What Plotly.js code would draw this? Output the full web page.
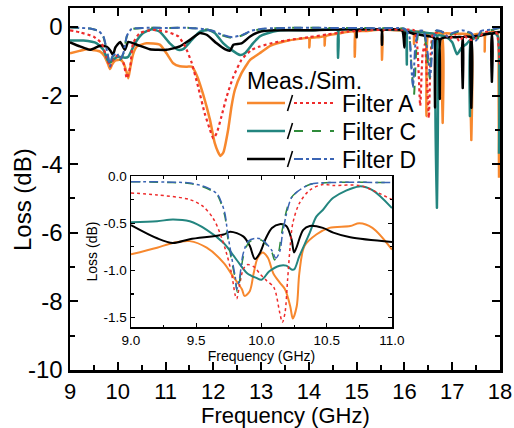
<!DOCTYPE html>
<html>
<head>
<meta charset="utf-8">
<script src="https://cdn.plot.ly/plotly-3.0.1.min.js"></script>
<style>html,body{margin:0;padding:0;background:#fff}#chart{width:514px;height:428px}</style>
</head>
<body>
<div id="chart"></div>
<script>
// ---------- main plot data (9-18 GHz) ----------
const measA_f = [9.0,9.2,9.35,9.5,9.63,9.72,9.8,9.84,9.88,9.95,10.05,10.12,10.18,10.22,10.26,10.32,10.4,10.6,10.88,11.02,11.16,11.3,11.45,11.55,11.65,11.79,11.93,12.03,12.1,12.15,12.21,12.31,12.38,12.45,12.59,12.77,12.97,13.2,13.5,13.8,14.0,14.01,14.03,14.2,14.32,14.33,14.35,14.6,14.95,14.96,14.98,15.2,15.52,15.53,15.55,15.8,16.1,16.19,16.2,16.22,16.4,16.44,16.46,16.5,16.6,16.78,16.8,16.82,17.0,17.2,17.38,17.4,17.42,17.6,17.67,17.68,17.7,17.85,17.95,17.97,17.98];
const measA_L = [-0.77,-0.7,-0.65,-0.68,-0.72,-0.85,-1.1,-1.23,-1.1,-0.98,-0.96,-1.05,-1.3,-1.5,-1.2,-0.8,-0.57,-0.48,-0.52,-0.77,-1.06,-1.15,-1.16,-1.16,-1.4,-1.98,-2.71,-3.39,-3.65,-3.76,-3.66,-3.0,-2.32,-1.84,-1.35,-0.96,-0.77,-0.55,-0.42,-0.35,-0.33,-0.6,-0.33,-0.3,-0.28,-0.55,-0.27,-0.2,-0.14,-0.87,-0.14,-0.12,-0.1,-0.96,-0.1,-0.1,-0.12,-0.15,-0.5,-0.15,-0.15,-0.2,-2.6,-0.2,-0.2,-0.2,-2.8,-0.2,-0.2,-0.2,-0.25,-3.3,-0.25,-0.2,-0.2,-0.72,-0.2,-0.15,-0.2,-1.5,-4.4];

const simA_f = [9.0,9.21,9.49,9.66,9.77,9.84,9.9,10.01,10.12,10.19,10.26,10.32,10.46,10.74,11.02,11.27,11.41,11.55,11.68,11.82,11.93,12.0,12.07,12.17,12.28,12.42,12.59,12.8,12.97,13.3,13.6,14.0,14.4,14.8,15.2,15.6,16.0,16.2,16.27,16.33,16.38,16.43,16.47,16.51,16.55,16.6,16.8,16.95,17.05,17.15,17.25,17.33,17.42,17.54,17.7,17.9,17.95,18.0];
const simA_L = [-0.1,-0.16,-0.28,-0.48,-0.9,-1.17,-0.96,-0.82,-1.06,-1.5,-1.16,-0.48,-0.18,-0.09,-0.14,-0.28,-0.57,-1.06,-1.74,-2.52,-3.0,-3.25,-3.1,-2.61,-2.03,-1.45,-0.96,-0.67,-0.57,-0.45,-0.38,-0.3,-0.22,-0.14,-0.1,-0.08,-0.08,-0.1,-0.6,-2.3,-0.8,-0.5,-1.5,-2.65,-0.8,-0.2,-0.15,-0.35,-0.2,-0.42,-0.25,-0.35,-0.38,-0.3,-0.15,-0.1,-0.3,-1.1];

const measC_f = [9.0,9.28,9.56,9.7,9.82,9.9,10.0,10.15,10.22,10.36,10.53,10.71,10.88,11.09,11.27,11.37,11.55,11.72,11.89,12.03,12.21,12.38,12.56,12.66,12.83,12.97,13.1,13.4,14.0,14.6,14.61,14.63,15.0,15.5,16.0,16.04,16.05,16.07,16.3,16.6,16.67,16.68,16.7,16.88,17.0,17.1,17.2,17.3,17.36,17.37,17.39,17.5,17.7,17.9,17.96,17.98];
const measC_L = [-0.4,-0.4,-0.48,-0.67,-1.06,-0.96,-0.87,-0.9,-0.87,-0.48,-0.18,-0.07,-0.14,-0.48,-0.67,-0.65,-0.38,-0.14,-0.09,-0.18,-0.48,-0.67,-0.82,-0.77,-0.48,-0.28,-0.2,-0.1,-0.1,-0.1,-0.9,-0.1,-0.08,-0.08,-0.1,-0.12,-1.1,-0.12,-0.15,-0.2,-0.25,-5.27,-0.25,-0.3,-0.45,-0.8,-0.6,-0.5,-0.4,-2.6,-0.4,-0.3,-0.2,-0.2,-0.3,-3.7];

const simC_f = [9.0,9.42,9.6,9.7,9.8,9.84,9.88,9.98,10.05,10.12,10.19,10.29,10.53,11.0,11.5,11.8,12.0,12.2,12.4,12.6,12.8,13.1,13.5,14.5,15.5,16.0,16.1,16.15,16.2,16.25,16.3,16.4,16.48,16.53,16.58,16.65,16.8,16.9,17.0,17.2,17.4,17.5,17.6,17.8,18.0];
const simC_L = [-0.02,-0.05,-0.12,-0.3,-0.9,-1.17,-0.9,-0.77,-0.96,-0.77,-0.28,-0.07,-0.03,-0.03,-0.03,-0.06,-0.12,-0.25,-0.32,-0.25,-0.12,-0.05,-0.03,-0.03,-0.04,-0.06,-0.3,-1.2,-1.98,-0.6,-0.15,-0.15,-0.9,-1.5,-0.5,-0.12,-0.15,-0.3,-0.2,-0.12,-0.2,-0.45,-0.15,-0.1,-0.03];

const measD_f = [9.0,9.21,9.42,9.63,9.77,9.85,9.9,9.95,10.05,10.15,10.22,10.4,10.67,11.02,11.3,11.51,11.72,11.86,12.07,12.24,12.35,12.42,12.59,12.77,12.97,13.3,14.0,14.99,15.0,15.01,15.52,15.53,15.54,15.95,16.0,16.02,16.2,16.4,16.6,16.63,16.64,16.66,16.72,16.74,16.76,16.9,17.1,17.21,17.22,17.23,17.39,17.4,17.41,17.6,17.82,17.83,17.84,18.0];
const measD_L = [-0.45,-0.57,-0.67,-0.55,-0.58,-0.7,-0.82,-0.6,-0.44,-0.67,-0.44,-0.52,-0.65,-0.67,-0.57,-0.38,-0.18,-0.23,-0.48,-0.65,-0.69,-0.52,-0.48,-0.28,-0.14,-0.1,-0.1,-0.1,-0.3,-0.1,-0.1,-0.52,-0.1,-0.1,-0.6,-0.15,-0.2,-0.25,-0.3,-0.35,-2.35,-0.35,-0.35,-2.1,-0.35,-0.3,-0.3,-0.3,-1.78,-0.3,-0.3,-2.36,-0.3,-0.25,-0.2,-1.6,-0.2,-0.15];

const simD_f = [9.0,9.42,9.6,9.7,9.8,9.84,9.88,9.98,10.05,10.12,10.19,10.29,10.53,11.0,11.5,11.8,12.0,12.2,12.4,12.6,12.8,13.1,13.5,14.5,15.5,16.0,16.1,16.14,16.18,16.23,16.3,16.4,16.49,16.54,16.6,16.67,16.8,16.9,17.0,17.2,17.4,17.5,17.6,17.8,18.0];
const simD_L = [-0.01,-0.05,-0.12,-0.28,-0.88,-1.15,-0.88,-0.76,-0.94,-0.75,-0.26,-0.06,-0.03,-0.03,-0.03,-0.06,-0.12,-0.24,-0.3,-0.24,-0.11,-0.05,-0.03,-0.03,-0.04,-0.05,-0.25,-1.1,-1.75,-0.5,-0.12,-0.12,-0.8,-1.45,-0.4,-0.1,-0.15,-0.28,-0.18,-0.1,-0.18,-0.4,-0.12,-0.08,-0.02];

// ---------- inset data (9-11 GHz) ----------
const inMeasA_f = [9.0,9.2,9.32,9.45,9.58,9.71,9.78,9.85,9.87,9.91,9.94,9.97,10.01,10.05,10.09,10.14,10.18,10.22,10.24,10.27,10.29,10.33,10.42,10.52,10.68,10.75,10.85,11.0];
const inMeasA_L = [-0.83,-0.76,-0.71,-0.69,-0.76,-0.92,-1.06,-1.2,-1.27,-1.22,-1.03,-0.87,-0.81,-0.87,-1.03,-1.13,-1.2,-1.38,-1.51,-1.38,-1.03,-0.74,-0.62,-0.55,-0.53,-0.5,-0.55,-0.78];

const inSimA_f = [9.0,9.2,9.45,9.55,9.63,9.68,9.73,9.77,9.8,9.81,9.83,9.86,9.89,9.94,9.99,10.04,10.09,10.11,10.14,10.16,10.18,10.2,10.22,10.24,10.29,10.37,10.47,10.55,10.75,10.85,11.0];
const inSimA_L = [-0.18,-0.2,-0.25,-0.32,-0.45,-0.6,-0.81,-1.03,-1.27,-1.3,-1.17,-0.99,-0.94,-0.96,-1.04,-1.11,-1.17,-1.24,-1.45,-1.55,-1.45,-1.1,-0.74,-0.5,-0.29,-0.15,-0.09,-0.1,-0.1,-0.15,-0.25];

const inMeasC_f = [9.0,9.2,9.32,9.45,9.58,9.71,9.81,9.89,9.96,10.0,10.06,10.14,10.19,10.23,10.25,10.29,10.37,10.42,10.47,10.55,10.75,10.85,11.0];
const inMeasC_L = [-0.49,-0.48,-0.46,-0.48,-0.57,-0.71,-0.89,-1.03,-1.08,-1.1,-1.01,-0.95,-0.95,-0.99,-0.99,-0.85,-0.6,-0.43,-0.36,-0.23,-0.11,-0.15,-0.34];

const inSimC_f = [9.0,9.32,9.45,9.58,9.66,9.69,9.72,9.74,9.77,9.8,9.815,9.83,9.86,9.9,9.95,10.0,10.04,10.08,10.1,10.13,10.15,10.18,10.22,10.27,10.37,10.52,11.0];
const inSimC_L = [-0.06,-0.07,-0.08,-0.13,-0.2,-0.29,-0.43,-0.64,-0.89,-1.1,-1.23,-1.13,-0.86,-0.71,-0.67,-0.68,-0.73,-0.81,-0.89,-0.81,-0.64,-0.43,-0.25,-0.17,-0.09,-0.07,-0.07];

const inMeasD_f = [9.0,9.2,9.32,9.45,9.71,9.76,9.86,9.91,9.95,9.99,10.03,10.08,10.14,10.19,10.23,10.25,10.27,10.32,10.37,10.47,10.55,10.68,11.0];
const inMeasD_L = [-0.52,-0.66,-0.71,-0.67,-0.62,-0.59,-0.64,-0.74,-0.88,-0.81,-0.67,-0.55,-0.51,-0.53,-0.67,-0.81,-0.75,-0.57,-0.53,-0.55,-0.6,-0.65,-0.7];

const inSimD_f = [9.0,9.32,9.45,9.58,9.66,9.69,9.72,9.74,9.77,9.8,9.81,9.83,9.86,9.9,9.95,10.0,10.04,10.08,10.11,10.14,10.16,10.19,10.23,10.28,10.37,10.52,11.0];
const inSimD_L = [-0.06,-0.065,-0.075,-0.12,-0.19,-0.27,-0.4,-0.6,-0.85,-1.08,-1.2,-1.1,-0.82,-0.69,-0.66,-0.67,-0.72,-0.79,-0.87,-0.8,-0.62,-0.41,-0.23,-0.16,-0.09,-0.07,-0.07];

// ---------- tick labels / texts ----------
const mainYTickVals = [0,-2,-4,-6,-8,-10];
const mainYTickText = ['0','-2','-4','-6','-8','-10'];
const mainXTickVals = [9,10,11,12,13,14,15,16,17,18];
const mainXTickText = ['9','10','11','12','13','14','15','16','17','18'];
const inXTickVals = [9,9.5,10,10.5,11];
const inXTickText = ['9.0','9.5','10.0','10.5','11.0'];
const inYTickVals = [0,-0.5,-1.0,-1.5];
const inYTickText = ['0.0','-0.5','-1.0','-1.5'];
const legendNames = ['Filter A','Filter C','Filter D'];

// ---------- styles ----------
const C = {orange:'#F7882E', red:'#EE2B2B', teal:'#23857F', green:'#2F8B3A', black:'#000000', blue:'#3A64B4'};
const FONT = 'Arial, "Liberation Sans", Helvetica, sans-serif';

function tr(x, y, color, dash, w, xa, ya, smooth) {
  return {x: x, y: y, type:'scatter', mode:'lines', xaxis: xa, yaxis: ya,
    line:{color: color, width: w, dash: dash, shape:'spline', smoothing: smooth}, hoverinfo:'skip', showlegend:false};
}

const data = [
  tr(measA_f, measA_L, C.orange, 'solid', 2.5, 'x', 'y', 0.5),
  tr(measC_f, measC_L, C.teal, 'solid', 2.5, 'x', 'y', 0.5),
  tr(measD_f, measD_L, C.black, 'solid', 2.5, 'x', 'y', 0.5),
  tr(simA_f, simA_L, C.red, 'dot', 2.2, 'x', 'y', 0.5),
  tr(simC_f, simC_L, C.green, 'dash', 2, 'x', 'y', 0.5),
  tr(simD_f, simD_L, C.blue, 'dashdot', 2, 'x', 'y', 0.5),
  tr(inMeasA_f, inMeasA_L, C.orange, 'solid', 2, 'x2', 'y2', 0.9),
  tr(inMeasC_f, inMeasC_L, C.teal, 'solid', 2, 'x2', 'y2', 0.9),
  tr(inMeasD_f, inMeasD_L, C.black, 'solid', 2, 'x2', 'y2', 0.9),
  tr(inSimA_f, inSimA_L, C.red, 'dot', 1.5, 'x2', 'y2', 0.9),
  tr(inSimC_f, inSimC_L, C.green, 'dash', 1.5, 'x2', 'y2', 0.9),
  tr(inSimD_f, inSimD_L, C.blue, 'dashdot', 1.5, 'x2', 'y2', 0.9)
];

// pixel helpers for legend/inset placement (plot area 70..500 x 8..370)
const PL=70, PR=500, PT=8, PB=370;
const px = v => (v-PL)/(PR-PL);
const py = v => (PB-v)/(PB-PT);

const shapes = [];
const annotations = [];
const rows = [
  {y:103, m:C.orange, s:C.red, dash:'dot'},
  {y:131, m:C.teal, s:C.green, dash:'dash'},
  {y:159, m:C.black, s:C.blue, dash:'dashdot'}
];
rows.forEach((r,i)=>{
  shapes.push({type:'line', xref:'paper', yref:'paper', x0:px(247), x1:px(285), y0:py(r.y), y1:py(r.y), line:{color:r.m, width:2.5}});
  shapes.push({type:'line', xref:'paper', yref:'paper', x0:px(294), x1:px(334), y0:py(r.y), y1:py(r.y), line:{color:r.s, width:2.2, dash:r.dash}});
  // the "/" separator between the measured and simulated samples
  shapes.push({type:'line', xref:'paper', yref:'paper', x0:px(287.5), x1:px(292.5), y0:py(r.y+8), y1:py(r.y-8), line:{color:'#000', width:1.6}});
  annotations.push({xref:'paper', yref:'paper', x:px(340), y:py(r.y+1), text:legendNames[i], showarrow:false, xanchor:'left', yanchor:'middle', font:{family:FONT, size:23, color:'#000'}});
});
annotations.push({xref:'paper', yref:'paper', x:px(245), y:py(81), text:'Meas./Sim.', showarrow:false, xanchor:'left', yanchor:'middle', font:{family:FONT, size:23, color:'#000'}});
// main axis titles
annotations.push({xref:'paper', yref:'paper', x:px(285), y:py(415), text:'Frequency (GHz)', showarrow:false, xanchor:'center', yanchor:'middle', font:{family:FONT, size:22, color:'#000'}});
annotations.push({xref:'paper', yref:'paper', x:px(22), y:py(200), text:'Loss (dB)', textangle:-90, showarrow:false, xanchor:'center', yanchor:'middle', font:{family:FONT, size:24, color:'#000'}});

const layout = {
  width:514, height:428,
  margin:{l:PL, r:514-PR, t:PT, b:428-PB},
  paper_bgcolor:'#fff', plot_bgcolor:'rgba(0,0,0,0)',
  showlegend:false,
  xaxis:{range:[9,18], tickmode:'array', tickvals:mainXTickVals, ticktext:mainXTickText,
    ticks:'inside', ticklen:8, tickwidth:2, tickcolor:'#000', mirror:'allticks',
    showline:true, linewidth:2.5, linecolor:'#000', showgrid:false, zeroline:false,
    minor:{ticks:'inside', tickmode:'linear', tick0:9, dtick:0.5, ticklen:5, tickwidth:2, tickcolor:'#000', showgrid:false},
    tickfont:{family:FONT, size:22, color:'#000'},
    automargin:false},
  yaxis:{range:[-10,0.55], tickmode:'array', tickvals:mainYTickVals, ticktext:mainYTickText,
    ticks:'inside', ticklen:8, tickwidth:2, tickcolor:'#000', mirror:'allticks',
    showline:true, linewidth:2.5, linecolor:'#000', showgrid:false, zeroline:false,
    minor:{ticks:'inside', tickmode:'linear', tick0:0, dtick:1, ticklen:5, tickwidth:2, tickcolor:'#000', showgrid:false},
    tickfont:{family:FONT, size:24, color:'#000'},
    automargin:false},
  xaxis2:{domain:[px(131), px(392)], anchor:'y2', range:[9,11], tickmode:'array', tickvals:inXTickVals, ticktext:inXTickText,
    ticks:'inside', ticklen:4, tickwidth:1.2, tickcolor:'#000', mirror:'allticks',
    showline:true, linewidth:1.5, linecolor:'#000', showgrid:false, zeroline:false,
    minor:{ticks:'inside', tickmode:'linear', tick0:9, dtick:0.25, ticklen:2.5, tickwidth:1.2, tickcolor:'#000', showgrid:false},
    tickfont:{family:FONT, size:13.5, color:'#000'},
    title:{text:'Frequency (GHz)', font:{family:FONT, size:14, color:'#000'}, standoff:0},
    automargin:false},
  yaxis2:{domain:[py(327), py(176)], anchor:'x2', range:[-1.6,0], tickmode:'array', tickvals:inYTickVals, ticktext:inYTickText,
    ticks:'inside', ticklen:4, tickwidth:1.2, tickcolor:'#000', mirror:'allticks',
    showline:true, linewidth:1.5, linecolor:'#000', showgrid:false, zeroline:false,
    minor:{ticks:'inside', tickmode:'linear', tick0:0, dtick:0.25, ticklen:2.5, tickwidth:1.2, tickcolor:'#000', showgrid:false},
    tickfont:{family:FONT, size:13.5, color:'#000'},
    title:{text:'Loss (dB)', font:{family:FONT, size:14, color:'#000'}, standoff:2},
    automargin:false},
  shapes: shapes,
  annotations: annotations
};

Plotly.newPlot('chart', data, layout, {staticPlot:true, displayModeBar:false});
</script>
</body>
</html>
